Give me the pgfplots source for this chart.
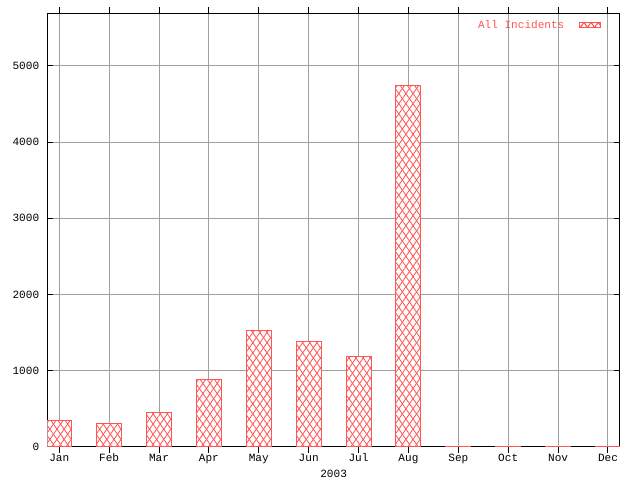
\documentclass[border=0pt]{standalone}
\usepackage{fontspec}
\setmainfont{Liberation Mono}
\usepackage{pgfplots}
\pgfplotsset{compat=1.18}
\usetikzlibrary{patterns.meta}
\definecolor{gpred}{RGB}{255,85,85}
\definecolor{gpgrid}{RGB}{160,160,160}
\tikzset{gpbar/.style={fill=white,draw=gpred,line width=0.72bp,
  postaction={pattern={Lines[angle=55,distance=4.2bp,line width=0.6bp]},pattern color=gpred},
  postaction={pattern={Lines[angle=125,distance=4.2bp,line width=0.6bp]},pattern color=gpred}}}
\begin{document}
\fontsize{8}{9}\selectfont
\begin{tikzpicture}
\useasboundingbox (-34.06bp,-23.98bp) rectangle (426.74bp,321.63bp);
\begin{axis}[
  at={(0,0)}, anchor=south west,
  scale only axis, width=412.3bp, height=312.0bp,
  xmin=0.76, xmax=12.24, ymin=0, ymax=5690,
  xtick={1,...,12},
  xticklabels={Jan,Feb,Mar,Apr,May,Jun,Jul,Aug,Sep,Oct,Nov,Dec},
  ytick={0,1000,2000,3000,4000,5000},
  /pgf/number format/assume math mode=true,
  /pgf/number format/1000 sep={},
  tick label style={font=\fontsize{8}{9}\selectfont},
  yticklabel style={xshift=-3bp},
  xticklabel style={text height=5.5bp,text depth=1.5bp,yshift=1.8bp},
  xlabel={2003},
  xlabel style={at={(axis description cs:0.5,0)},anchor=center,yshift=-19.2bp,font=\fontsize{8}{9}\selectfont},
  tick align=inside,
  major tick length=4.3bp,
  axis line style={line width=0.72bp},
  every tick/.style={black,line width=0.72bp},
  grid=major,
  major grid style={gpgrid,line width=0.72bp},
  ybar, bar width=0.5,
  legend plot pos=right,
  legend style={at={(rel axis cs:1,1)},anchor=north east,xshift=-13.2bp,yshift=-5bp,
    draw=none,fill=none,inner sep=0pt,column sep=10.3bp,
    font=\fontsize{8}{9}\selectfont\color{gpred},
    nodes={inner sep=0pt,anchor=base}},
  legend image code/.code={\draw[gpbar] (0bp,0.9bp) rectangle (15.6bp,4.5bp);},
]
\addplot[gpbar] coordinates {
 (1,350) (2,307) (3,451) (4,888) (5,1528) (6,1383)
 (7,1186) (8,4740) (9,5) (10,5) (11,5) (12,5)};
\addlegendentry{All Incidents}
\end{axis}
\end{tikzpicture}
\end{document}
